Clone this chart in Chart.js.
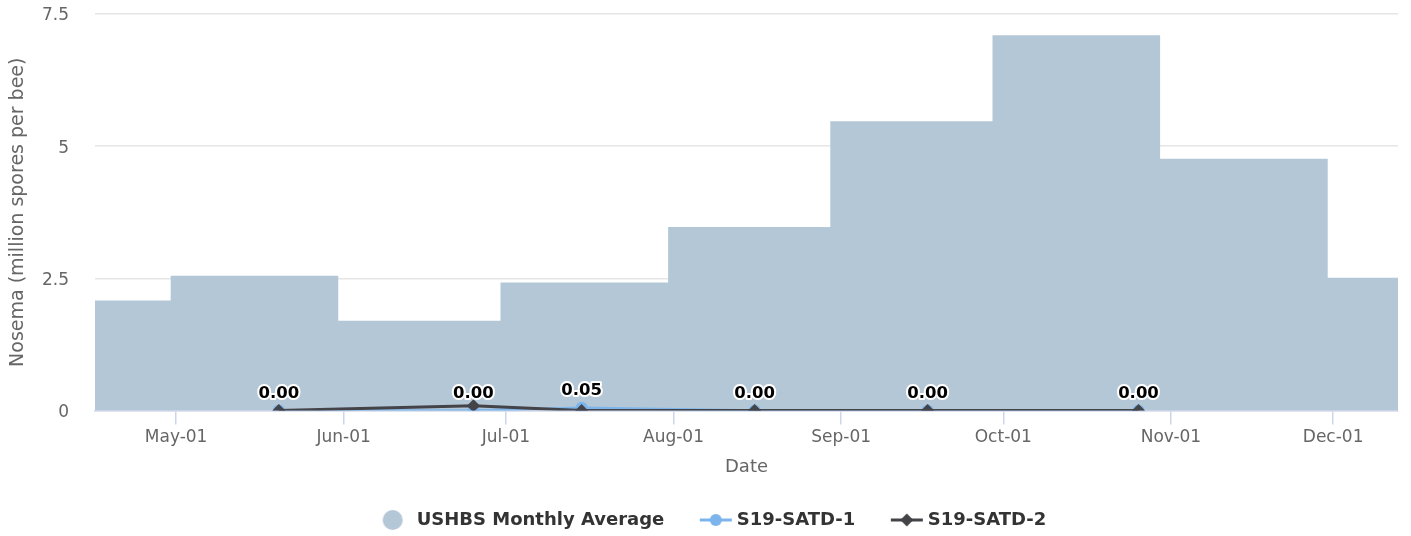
<!DOCTYPE html>
<html>
<head>
<meta charset="utf-8">
<script src="https://cdn.jsdelivr.net/npm/chart.js@4.4.1/dist/chart.umd.min.js"></script>
<style>
  body { margin: 0; background: #fff; }
  canvas { display: block; }
</style>
</head>
<body>
<canvas id="noseChart" width="1411" height="536"></canvas>
<script>
// month ticks on the x axis
const tickDates = ['05-01', '06-01', '07-01', '08-01', '09-01', '10-01', '11-01', '12-01'];
const tickLabels = ['May-01', 'Jun-01', 'Jul-01', 'Aug-01', 'Sep-01', 'Oct-01', 'Nov-01', 'Dec-01'];

// USHBS monthly average, one step per period
const avgStarts = ['04-16', '04-30', '05-31', '06-30', '07-31', '08-30', '09-29', '10-30', '11-30'];
const avgEnd = '12-13';
const avgValues = [2.08, 2.55, 1.70, 2.42, 3.47, 5.47, 7.10, 4.76, 2.51];

// sampled apiaries
const sampleDates = ['05-20', '06-25', '07-15', '08-16', '09-17', '10-26'];
const satd1Values = [0, 0, 0.05, 0, 0, 0];
const satd2Values = [0, 0.09, 0, 0, 0, 0];

const legendNames = ['USHBS Monthly Average', 'S19-SATD-1', 'S19-SATD-2'];
const yTicks = [0, 2.5, 5, 7.5];

const FONT = '"DejaVu Sans", Verdana, sans-serif';
const AREA = '#b4c7d6';
const BLUE = '#7cb5ec';
const DARK = '#434348';

// day of year (2019) from 'MM-DD'
function day(md) {
  const [m, d] = md.split('-').map(Number);
  return (Date.UTC(2019, m - 1, d) - Date.UTC(2019, 0, 1)) / 86400000;
}

const tickDays = tickDates.map(day);
const avgData = avgStarts.map((d, i) => ({x: day(d), y: avgValues[i]}));
avgData.push({x: day(avgEnd), y: avgValues[avgValues.length - 1]});
const satd1Data = sampleDates.map((d, i) => ({x: day(d), y: satd1Values[i]}));
const satd2Data = sampleDates.map((d, i) => ({x: day(d), y: satd2Values[i]}));

// legend symbols, drawn on small canvases
function makeSymbol(kind) {
  const c = document.createElement('canvas');
  c.width = 70; c.height = 22;
  const g = c.getContext('2d');
  const cx = 51, cy = 11;
  if (kind === 0) {
    g.fillStyle = AREA;
    g.beginPath(); g.arc(48, cy, 10, 0, Math.PI * 2); g.fill();
  } else {
    const col = kind === 1 ? BLUE : DARK;
    g.strokeStyle = col; g.lineWidth = 3;
    g.beginPath(); g.moveTo(cx - 16, cy); g.lineTo(cx + 16, cy); g.stroke();
    g.fillStyle = col;
    g.beginPath();
    if (kind === 1) {
      g.arc(cx, cy, 6, 0, Math.PI * 2);
    } else {
      g.moveTo(cx, cy - 6.5); g.lineTo(cx + 6.5, cy); g.lineTo(cx, cy + 6.5); g.lineTo(cx - 6.5, cy);
      g.closePath();
    }
    g.fill();
  }
  return c;
}
const legendSymbols = [0, 1, 2].map(makeSymbol);

// value labels above the sample points, skipping overlaps
const pointLabels = {
  id: 'pointLabels',
  afterDatasetsDraw(chart) {
    const ctx = chart.ctx;
    const placed = [];
    ctx.save();
    ctx.font = 'bold 16.5px ' + FONT;
    ctx.textAlign = 'center';
    ctx.textBaseline = 'alphabetic';
    ctx.lineJoin = 'round';
    [1, 2].forEach(di => {
      const meta = chart.getDatasetMeta(di);
      meta.data.forEach((pt, i) => {
        const text = chart.data.datasets[di].data[i].y.toFixed(2);
        const w = ctx.measureText(text).width;
        const x = pt.x, y = pt.y - 13;
        const box = {l: x - w / 2, r: x + w / 2, t: y - 13, b: y};
        if (placed.some(p => p.l < box.r && box.l < p.r && p.t < box.b && box.t < p.b)) return;
        placed.push(box);
        ctx.strokeStyle = '#fff';
        ctx.lineWidth = 4;
        ctx.strokeText(text, x, y);
        ctx.fillStyle = '#000';
        ctx.fillText(text, x, y);
      });
    });
    ctx.restore();
  }
};

Chart.defaults.font.family = FONT;

new Chart(document.getElementById('noseChart'), {
  type: 'line',
  data: {
    datasets: [
      {
        label: legendNames[0],
        data: avgData,
        stepped: 'before',
        fill: 'origin',
        backgroundColor: AREA,
        borderColor: AREA,
        borderWidth: 0,
        pointRadius: 0,
        order: 3
      },
      {
        label: legendNames[1],
        data: satd1Data,
        borderColor: BLUE,
        backgroundColor: BLUE,
        borderWidth: 2.5,
        pointRadius: 6,
        pointBorderWidth: 0,
        pointStyle: 'circle',
        tension: 0,
        fill: false,
        order: 2
      },
      {
        label: legendNames[2],
        data: satd2Data,
        borderColor: DARK,
        backgroundColor: DARK,
        borderWidth: 3,
        pointRadius: 6.5,
        pointBorderWidth: 0,
        pointStyle: 'rectRot',
        tension: 0,
        fill: false,
        order: 1
      }
    ]
  },
  options: {
    responsive: false,
    animation: false,
    layout: { padding: { top: 14, right: 13, bottom: -3, left: 0 } },
    plugins: {
      tooltip: { enabled: false },
      legend: {
        position: 'bottom',
        labels: {
          usePointStyle: true,
          pointStyleWidth: 56,
          padding: 7.5,
          color: '#333',
          font: { size: 18, weight: 'bold' },
          generateLabels: () => legendNames.map((t, i) => ({
            text: t,
            pointStyle: legendSymbols[i],
            datasetIndex: i,
            hidden: false,
            lineWidth: 0,
            fontColor: '#333'
          }))
        },
        onClick: null
      }
    },
    scales: {
      x: {
        type: 'linear',
        min: day(avgStarts[0]),
        max: day(avgEnd),
        afterBuildTicks: s => { s.ticks = tickDays.map(v => ({value: v})); },
        afterFit: s => { s.height = 93; },
        ticks: {
          color: '#666',
          font: { size: 17 },
          padding: 3,
          maxRotation: 0,
          autoSkip: false,
          callback: v => tickLabels[tickDays.indexOf(v)]
        },
        grid: {
          drawOnChartArea: false,
          drawTicks: true,
          tickLength: 14,
          color: '#ccd6eb',
          lineWidth: 1.5
        },
        border: { display: true, color: '#ccd6eb', width: 1.5 },
        title: {
          display: true,
          text: 'Date',
          color: '#666',
          font: { size: 18 },
          padding: { top: 0, bottom: 25 }
        }
      },
      y: {
        min: 0,
        max: 7.5,
        afterBuildTicks: s => { s.ticks = yTicks.map(v => ({value: v})); },
        afterFit: s => { s.width = 95; s.paddingTop = 0; s.paddingBottom = 0; },
        ticks: {
          color: '#666',
          font: { size: 17 },
          padding: 26,
          labelOffset: 2,
          callback: v => String(v)
        },
        grid: { color: '#e6e6e6', lineWidth: 1.5, drawTicks: false },
        border: { display: false },
        title: {
          display: true,
          text: 'Nosema (million spores per bee)',
          color: '#666',
          font: { size: 19 },
          padding: { top: 7, bottom: 0 }
        }
      }
    }
  },
  plugins: [pointLabels]
});
</script>
</body>
</html>
